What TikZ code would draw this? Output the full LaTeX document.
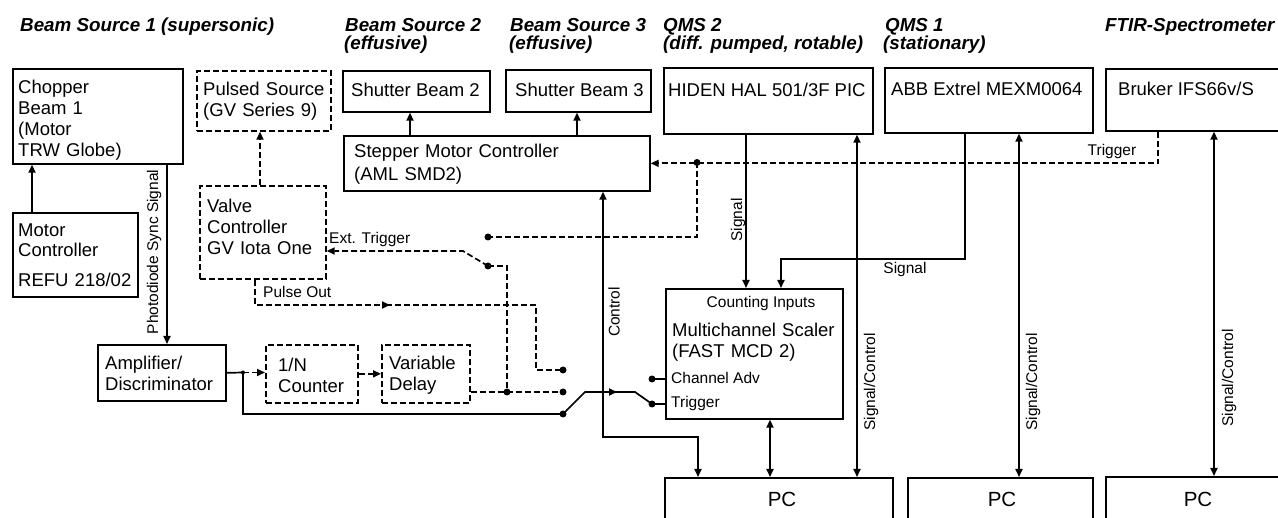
\documentclass[tikz,border=0pt]{standalone}
\usepackage{fontspec}
\setmainfont{Liberation Sans}
\usetikzlibrary{arrows.meta,calc}
\newcommand\fmain{\fontsize{18.5}{21}\selectfont}
\newcommand\fsmall{\fontsize{15.5}{18}\selectfont}
\newcommand\fpc{\fontsize{20.5}{24}\selectfont}
\newcommand\ftitle{\fontsize{18.8}{20}\selectfont\bfseries\itshape}
\tikzset{
  box/.style={draw, line width=1.7pt, anchor=north west, inner sep=0pt},
  dbox/.style={box, dash pattern=on 6pt off 3pt},
  ln/.style={line width=1.7pt},
  dln/.style={ln, dash pattern=on 6pt off 3pt},
  arr/.style={ln, -{Triangle[length=8pt,width=7pt]}},
  darr/.style={dln, -{Triangle[length=8pt,width=7pt]}},
  arrtwo/.style={ln, {Triangle[length=8pt,width=7pt]}-{Triangle[length=8pt,width=7pt]}},
  txt/.style={anchor=base west, inner sep=0pt, align=left, font=\fmain},
  ctxt/.style={anchor=base, inner sep=0pt, font=\fmain},
  stxt/.style={anchor=base west, inner sep=0pt, font=\fsmall},
  rtxt/.style={anchor=center, inner sep=0pt, font=\fsmall, rotate=90},
  ttl/.style={anchor=base west, inner sep=0pt, font=\ftitle},
  dot/.style={circle, fill, inner sep=0pt, minimum size=7pt}
}
\begin{document}
\begin{tikzpicture}[x=1pt,y=-1pt]
\clip (0,0) rectangle (1278,518);
\fill[white] (0,0) rectangle (1278,518);

% titles
\node[ttl] (t1) at (20,32) {Beam Source 1 (supersonic)};
\node[ttl] (t2a) at (345,32) {Beam Source 2};
\node[ttl] (t2b) at (344,50) {(effusive)};
\node[ttl] (t3a) at (510,32) {Beam Source 3};
\node[ttl] (t3b) at (509,50) {(effusive)};
\node[ttl] (t4a) at (663,32) {QMS 2};
\node[ttl] (t4b) at (663,50) {(diff. pumped, rotable)};
\node[ttl] (t5a) at (885,32) {QMS 1};
\node[ttl] (t5b) at (883,50) {(stationary)};
\node[ttl] (t6) at (1105,32) {FTIR-Spectrometer};

% boxes
\node[box, minimum width=170pt, minimum height=95pt] (chop) at (12,68) {};
\node[box, minimum width=125pt, minimum height=84pt] (motor) at (12,212) {};
\node[dbox, minimum width=134pt, minimum height=60pt] (pulsed) at (196,70) {};
\node[dbox, minimum width=126pt, minimum height=93pt] (valve) at (199,185) {};
\node[box, minimum width=147pt, minimum height=41pt] (sb2) at (342,70) {};
\node[box, minimum width=145pt, minimum height=42pt] (sb3) at (505,69) {};
\node[box, minimum width=306pt, minimum height=55pt] (stepper) at (343,135) {};
\node[box, minimum width=209pt, minimum height=66pt] (hiden) at (663,67) {};
\node[box, minimum width=208pt, minimum height=65pt] (abb) at (884,67) {};
\node[box, minimum width=190pt, minimum height=62pt] (bruker) at (1105,68) {};
\node[box, minimum width=128pt, minimum height=56pt] (amp) at (97,344) {};
\node[dbox, minimum width=92pt, minimum height=58pt] (cnt) at (265,344) {};
\node[dbox, minimum width=88pt, minimum height=58pt] (delay) at (381,344) {};
\node[box, minimum width=177pt, minimum height=130pt] (mcs) at (665,288) {};
\node[box, minimum width=228pt, minimum height=70pt] (pc1) at (664,477) {};
\node[box, minimum width=185pt, minimum height=70pt] (pc2) at (907,477) {};
\node[box, minimum width=190pt, minimum height=70pt] (pc3) at (1105,476) {};

% box texts
\node[txt, text width=160pt] (tchop) at (18,94) {Chopper\\Beam 1\\(Motor\\TRW Globe)};
\node[txt, text width=118pt] (tmotor) at (18,237) {Motor\\[-1pt]Controller\\[9pt]REFU 218/02};
\node[txt, text width=125pt] (tpulsed) at (203,96) {Pulsed Source\\(GV Series 9)};
\node[txt, text width=115pt] (tvalve) at (207,213) {Valve\\Controller\\GV Iota One};
\node[ctxt] (tsb2) at (415.5,97) {Shutter Beam 2};
\node[ctxt] (tsb3) at (579.5,97) {Shutter Beam 3};
\node[txt, text width=290pt] (tstep) at (354,158) {Stepper Motor Controller\\[2pt](AML SMD2)};
\node[txt] (thiden) at (668,97) {HIDEN HAL 501/3F PIC};
\node[txt] (tabb) at (891,96) {ABB Extrel MEXM0064};
\node[txt] (tbruker) at (1118,96) {Bruker IFS66v/S};
\node[txt, text width=118pt] (tamp) at (105,370) {Amplifier/\\Discriminator};
\node[txt, text width=78pt] (tcnt) at (278,372) {1/N\\Counter};
\node[txt, text width=78pt] (tdelay) at (389,370) {Variable\\Delay};
\node[anchor=base, inner sep=0pt, font=\fsmall] (tcount) at (761,308) {Counting Inputs};
\node[txt, text width=168pt] (tmcs) at (672,337) {Multichannel Scaler\\(FAST MCD 2)};
\node[stxt] (tchadv) at (671,384) {Channel Adv};
\node[stxt] (ttrig) at (671,408) {Trigger};
\node[anchor=base, inner sep=0pt, font=\fpc] (tpc1) at (782,507) {PC};
\node[anchor=base, inner sep=0pt, font=\fpc] (tpc2) at (1002,507) {PC};
\node[anchor=base, inner sep=0pt, font=\fpc] (tpc3) at (1198,507) {PC};

% junction points
\coordinate (d1) at (563,370);
\coordinate (d2) at (563,392);
\coordinate (d3) at (563,414);
\coordinate (sw1) at (488,237);
\coordinate (sw2) at (488,266);
\coordinate (tdot) at (697,162.5);
\coordinate (jdot) at (507,392);
\coordinate (chdot) at (652,379);
\coordinate (trdot) at (652,404);
\coordinate (j0) at (243,372.5);

% connectors
\draw[arr] (32,0 |- motor.north) -- (32,0 |- chop.south);
\draw[arr] (167,0 |- chop.south) -- (167,0 |- amp.north);
\draw[darr] (260,0 |- valve.north) -- (260,0 |- pulsed.south);
\draw[arr] (410,0 |- stepper.north) -- (410,0 |- sb2.south);
\draw[arr] (577,0 |- stepper.north) -- (577,0 |- sb3.south);
\draw[darr] (1158,0 |- bruker.south) |- (stepper.east);
\draw[dln] (tdot) |- (sw1);
\draw[darr] (sw2) -- (463,251) -- (valve.east |- 0,251);
\draw[dln] (sw2) -| (jdot);
\draw[dln] (delay.east |- d2) -- (d2);
\draw[darr] (255,0 |- valve.south) |- (390,305);
\draw[dln] (386,305) -| (536,370) -- (d1);
\draw[ln] (amp.east) -- (j0);
\draw[darr] (j0) -- (cnt.west |- j0);
\draw[ln] (j0) |- (d3);
\draw[darr] (cnt.east) -- (delay.west);
\draw[arr] (d3) -- (585,392) -- (617,392);
\draw[ln] (614,392) -- (635,392) -- (trdot);
\draw[ln] (trdot) -- (mcs.west |- trdot);
\draw[ln] (chdot) -- (mcs.west |- chdot);
\draw[arrtwo] (603,0 |- stepper.south) |- (698,437) -- (698,0 |- pc1.north);
\draw[arrtwo] (770,0 |- mcs.south) -- (770,0 |- pc1.north);
\draw[arr] (746,0 |- hiden.south) -- (746,0 |- mcs.north);
\draw[arr] (965,0 |- abb.south) -- (965,259) -- (781,259) -- (781,0 |- mcs.north);
\draw[arrtwo] (857,0 |- hiden.south) -- (857,0 |- pc1.north);
\draw[arrtwo] (1019,0 |- abb.south) -- (1019,0 |- pc2.north);
\draw[arrtwo] (1214,0 |- bruker.south) -- (1214,0 |- pc3.north);

\foreach \p in {d1,d2,d3,sw1,sw2,tdot,jdot,chdot,trdot} \node[dot] at (\p) {};
\node[dot, minimum size=4pt] at (j0) {};

% connector labels
\node[rtxt] (lphoto) at (154,252) {Photodiode Sync Signal};
\node[rtxt] (lcontrol) at (614,312) {Control};
\node[rtxt] (lsig1) at (738,220) {Signal};
\node[rtxt] (lsc1) at (871,382) {Signal/Control};
\node[rtxt] (lsc2) at (1033,382) {Signal/Control};
\node[rtxt] (lsc3) at (1229,378) {Signal/Control};
\node[anchor=base, inner sep=0pt, font=\fsmall] (lsig2) at (905,274) {Signal};
\node[anchor=base, inner sep=0pt, font=\fsmall] (ltrig) at (1112,156) {Trigger};
\node[stxt] (lext) at (329,244) {Ext. Trigger};
\node[stxt] (lpulse) at (263,298) {Pulse Out};
\end{tikzpicture}
\end{document}
